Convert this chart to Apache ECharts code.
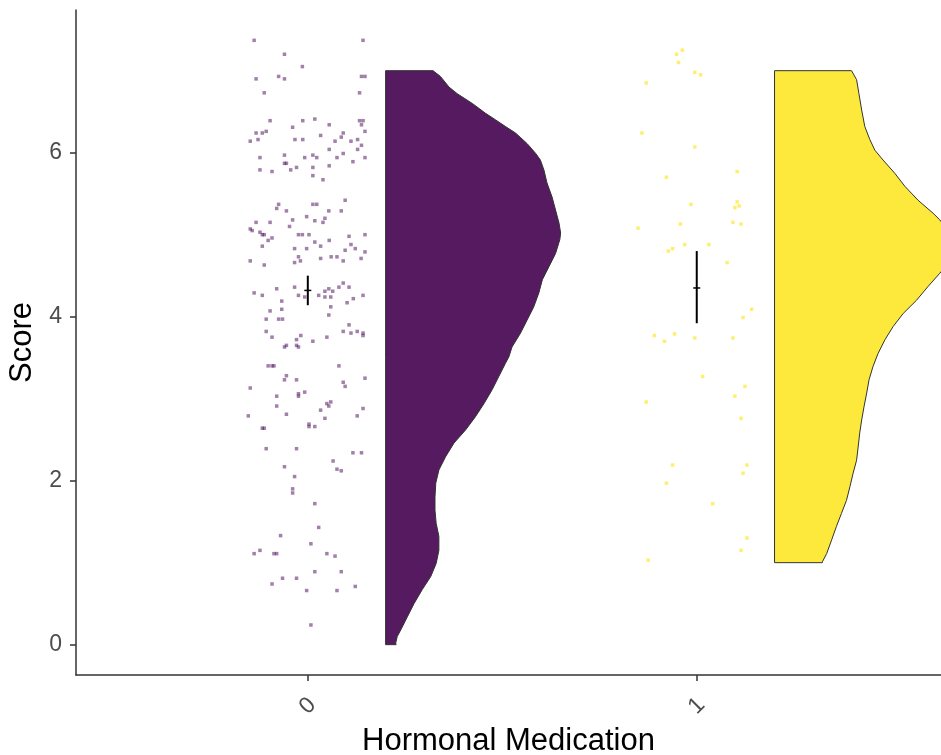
<!DOCTYPE html>
<html>
<head>
<meta charset="utf-8">
<title>Score by Hormonal Medication</title>
<script src="https://cdn.jsdelivr.net/npm/echarts@6/dist/echarts.min.js"></script>
<style>
  html, body { margin: 0; padding: 0; background: #ffffff; }
  #chart { width: 941px; height: 755px; }
</style>
</head>
<body>
<div id="chart"></div>
<script>
// Groups on the x axis
const categories = ['0', '1'];
const xTicks = [0, 1];
const yTicks = [0, 2, 4, 6];

// Jittered raw observations, group 0: horizontal jitter and score
const jitter0 = [-0.138,0.142,-0.060,-0.014,-0.133,-0.075,-0.060,0.138,0.147,-0.112,0.133,-0.097,-0.013,0.018,0.133,0.142,0.138,-0.039,0.055,-0.133,
  -0.117,-0.107,-0.128,-0.148,-0.033,-0.013,0.033,0.091,0.086,0.070,0.111,0.128,0.147,0.138,0.055,0.128,-0.123,-0.060,-0.008,0.013,
  0.023,0.075,0.091,0.147,0.116,-0.060,-0.055,-0.029,-0.044,0.013,0.055,-0.123,-0.092,0.013,0.039,0.096,-0.075,-0.080,0.013,0.023,
  -0.055,0.054,0.086,-0.003,0.018,0.044,0.039,-0.039,-0.133,-0.097,-0.047,-0.148,-0.143,-0.123,-0.117,-0.112,-0.102,-0.092,-0.117,-0.024,
  -0.014,0.003,0.018,0.033,0.055,0.106,0.147,0.111,0.122,0.096,-0.034,-0.003,0.147,-0.148,-0.112,-0.034,-0.024,-0.019,0.033,0.060,
  0.075,0.091,0.137,-0.138,-0.117,-0.080,-0.034,-0.024,-0.008,0.028,0.044,0.054,0.064,0.044,0.059,0.080,0.091,0.106,0.142,-0.067,
  -0.097,-0.067,-0.107,-0.075,-0.065,0.059,0.054,0.101,0.117,-0.107,-0.092,-0.018,-0.029,0.013,0.049,0.091,0.111,0.127,0.142,0.142,
  0.106,-0.060,-0.055,-0.029,-0.024,-0.102,-0.092,-0.087,0.080,-0.055,-0.060,-0.029,-0.148,0.091,0.096,0.147,-0.080,-0.024,-0.024,-0.008,
  -0.080,0.049,0.054,0.059,0.033,0.142,-0.153,-0.055,0.044,0.127,-0.117,-0.112,0.003,0.003,0.018,-0.107,-0.029,0.116,0.138,0.065,
  0.075,0.086,-0.060,-0.034,-0.039,-0.039,0.018,0.028,-0.070,0.008,-0.123,-0.138,-0.087,-0.080,0.049,0.070,0.018,0.086,-0.065,-0.029,
  -0.092,-0.003,0.075,0.122,0.008];
const score0 = [7.37,7.37,7.20,7.05,6.90,6.93,6.90,6.93,6.93,6.73,6.73,6.39,6.39,6.41,6.39,6.39,6.34,6.31,6.34,6.24,
  6.24,6.26,6.16,6.14,6.16,6.16,6.21,6.24,6.19,6.14,6.14,6.16,6.26,6.09,6.04,6.04,5.94,5.97,5.94,5.97,
  5.94,5.94,5.99,5.94,5.89,5.87,5.87,5.82,5.79,5.82,5.84,5.79,5.77,5.72,5.67,5.42,5.37,5.32,5.37,5.37,
  5.29,5.29,5.29,5.22,5.17,5.20,5.15,5.18,5.15,5.15,5.10,5.07,5.05,5.03,5.00,5.00,4.93,4.96,4.86,5.00,
  5.00,5.00,4.91,4.86,4.93,4.98,5.00,4.88,4.83,4.81,4.83,4.83,4.79,4.68,4.63,4.66,4.73,4.68,4.71,4.73,
  4.73,4.68,4.71,4.29,4.26,4.34,4.36,4.26,4.24,4.26,4.31,4.34,4.31,4.24,4.24,4.36,4.41,4.36,4.26,4.19,
  4.07,4.09,3.97,3.97,3.97,4.12,4.02,4.17,4.22,3.82,3.75,3.77,3.72,3.70,3.75,3.82,3.80,3.82,3.80,3.77,
  3.90,3.63,3.65,3.65,3.63,3.40,3.40,3.40,3.40,3.28,3.23,3.23,3.13,3.20,3.15,3.25,3.03,3.06,3.03,3.08,
  2.91,2.94,2.91,2.96,2.86,2.88,2.79,2.81,2.76,2.79,2.64,2.64,2.69,2.66,2.66,2.39,2.39,2.34,2.34,2.24,
  2.14,2.12,2.17,2.05,1.90,1.85,1.72,1.43,1.33,1.23,1.15,1.11,1.11,1.11,1.11,1.08,0.89,0.89,0.81,0.81,
  0.74,0.66,0.66,0.71,0.24];

// Jittered raw observations, group 1
const jitter1 = [-0.052,-0.037,-0.047,-0.005,0.010,-0.130,-0.141,-0.005,0.104,-0.078,-0.015,0.104,0.098,0.109,-0.151,-0.042,0.093,0.114,-0.073,-0.062,
  -0.031,0.031,0.078,0.141,0.119,-0.109,-0.083,-0.057,-0.005,0.093,0.015,0.124,0.098,-0.130,0.114,-0.062,0.129,0.119,-0.078,0.041,
  0.129,0.114,-0.125];
const score1 = [7.20,7.25,7.10,6.98,6.95,6.85,6.24,6.07,5.77,5.70,5.37,5.40,5.33,5.35,5.08,5.13,5.15,5.13,4.80,4.83,
  4.88,4.88,4.66,4.09,3.99,3.77,3.70,3.79,3.74,3.74,3.27,3.15,3.03,2.96,2.76,2.19,2.19,2.09,1.97,1.72,
  1.30,1.15,1.03];

// Mean and standard-error limits per group
const means = [4.32, 4.35];
const seLow = [4.14, 3.92];
const seHigh = [4.50, 4.80];

// Half-violin density profiles: score level and half-width (x units)
const violinScore0 = [7.00,6.93,6.80,6.72,6.60,6.48,6.40,6.32,6.24,6.11,5.99,5.91,5.79,5.63,5.46,5.30,5.14,5.02,4.94,4.77,
  4.61,4.45,4.29,4.12,3.96,3.80,3.63,3.51,3.43,3.27,3.11,2.94,2.78,2.62,2.46,2.29,2.13,1.97,1.80,1.64,
  1.48,1.32,1.15,0.99,0.83,0.67,0.50,0.34,0.18,0.10,0.02,0.00];
const violinWidth0 = [0.122,0.141,0.163,0.184,0.223,0.257,0.283,0.308,0.334,0.364,0.386,0.398,0.407,0.415,0.428,0.437,0.446,0.450,0.448,0.437,
  0.420,0.403,0.394,0.381,0.364,0.347,0.325,0.317,0.308,0.291,0.274,0.253,0.231,0.206,0.176,0.154,0.137,0.129,0.127,0.127,
  0.130,0.137,0.137,0.130,0.116,0.094,0.073,0.056,0.039,0.030,0.026,0.027];
const violinScore1 = [7.00,6.89,6.72,6.52,6.32,6.16,6.03,5.91,5.75,5.59,5.42,5.26,5.18,5.06,4.94,4.81,4.69,4.53,4.37,4.20,
  4.04,3.88,3.72,3.55,3.39,3.23,3.07,2.90,2.74,2.58,2.41,2.25,2.09,1.93,1.76,1.60,1.44,1.28,1.11,1.01,1.00];
const violinWidth1 = [0.198,0.211,0.217,0.224,0.232,0.245,0.258,0.279,0.309,0.335,0.369,0.408,0.425,0.445,0.461,0.463,0.453,0.425,0.395,0.365,
  0.331,0.305,0.284,0.266,0.253,0.243,0.237,0.230,0.224,0.219,0.215,0.211,0.202,0.194,0.185,0.172,0.159,0.147,0.134,0.123,0.123];

const fillColors = ['#551a60', '#fde93b'];
const pointColors = ['#440154', '#fde725'];
const violinOffset = 0.2;

const violinScores = [violinScore0, violinScore1];
const violinWidths = [violinWidth0, violinWidth1];

function pairs(xs, ys, g) {
  return xs.map((j, i) => [g + j, ys[i]]);
}

const chart = echarts.init(document.getElementById('chart'), null, { renderer: 'canvas' });

const fontFamily = '"Liberation Sans", Arial, Helvetica, sans-serif';

const option = {
  animation: false,
  backgroundColor: '#ffffff',
  grid: { left: 76, right: 0, top: 10, bottom: 80, containLabel: false, outerBoundsMode: 'none' },
  xAxis: {
    type: 'value',
    min: -0.596,
    max: 1.628,
    name: 'Hormonal Medication',
    nameLocation: 'middle',
    nameGap: 50,
    nameTextStyle: { fontSize: 31, color: '#000000', fontFamily: fontFamily },
    splitLine: { show: false },
    axisLine: { show: true, onZero: false, lineStyle: { color: '#333333', width: 1.5 } },
    axisTick: { show: true, length: 6, customValues: xTicks, lineStyle: { color: '#333333', width: 1.5 } },
    axisLabel: {
      customValues: xTicks,
      formatter: v => categories[Math.round(v)],
      rotate: 45,
      align: 'center',
      verticalAlign: 'middle',
      fontSize: 23,
      color: '#4d4d4d',
      fontFamily: fontFamily,
      margin: 31
    }
  },
  yAxis: {
    type: 'value',
    min: -0.37,
    max: 7.74,
    name: 'Score',
    nameLocation: 'middle',
    nameGap: 37,
    nameTextStyle: { fontSize: 31, color: '#000000', fontFamily: fontFamily },
    splitLine: { show: false },
    axisLine: { show: true, onZero: false, lineStyle: { color: '#333333', width: 1.5 } },
    axisTick: { show: true, length: 6, customValues: yTicks, lineStyle: { color: '#333333', width: 1.5 } },
    axisLabel: {
      customValues: yTicks,
      fontSize: 23,
      color: '#4d4d4d',
      fontFamily: fontFamily,
      margin: 14
    }
  },
  series: [
    {
      // half violins drawn to the right of each group
      type: 'custom',
      name: 'density',
      data: [[0], [1]],
      renderItem: function (params, api) {
        const g = params.dataIndex;
        const s = violinScores[g];
        const w = violinWidths[g];
        const base = g + violinOffset;
        const pts = [];
        for (let i = 0; i < s.length; i++) {
          pts.push(api.coord([base + w[i], s[i]]));
        }
        pts.push(api.coord([base, s[s.length - 1]]));
        pts.push(api.coord([base, s[0]]));
        return {
          type: 'polygon',
          shape: { points: pts },
          style: { fill: fillColors[g], stroke: '#333333', lineWidth: 1 }
        };
      },
      silent: true,
      z: 2
    },
    {
      type: 'scatter',
      name: 'group 0',
      data: pairs(jitter0, score0, 0),
      symbol: 'rect',
      symbolSize: 3.5,
      itemStyle: { color: pointColors[0], opacity: 0.5 },
      silent: true,
      z: 3
    },
    {
      type: 'scatter',
      name: 'group 1',
      data: pairs(jitter1, score1, 1),
      symbol: 'rect',
      symbolSize: 3.5,
      itemStyle: { color: pointColors[1], opacity: 0.65 },
      silent: true,
      z: 3
    },
    {
      // mean with standard-error range
      type: 'custom',
      name: 'mean',
      data: means.map((m, i) => [i, m, seLow[i], seHigh[i]]),
      renderItem: function (params, api) {
        const x = api.value(0);
        const mid = api.coord([x, api.value(1)]);
        const lo = api.coord([x, api.value(2)]);
        const hi = api.coord([x, api.value(3)]);
        return {
          type: 'group',
          children: [
            { type: 'line', shape: { x1: lo[0], y1: lo[1], x2: hi[0], y2: hi[1] },
              style: { stroke: '#000000', lineWidth: 2 } },
            { type: 'line', shape: { x1: mid[0] - 3.5, y1: mid[1], x2: mid[0] + 3.5, y2: mid[1] },
              style: { stroke: '#000000', lineWidth: 1.5 } }
          ]
        };
      },
      silent: true,
      z: 4
    }
  ]
};

chart.setOption(option);
</script>
</body>
</html>
